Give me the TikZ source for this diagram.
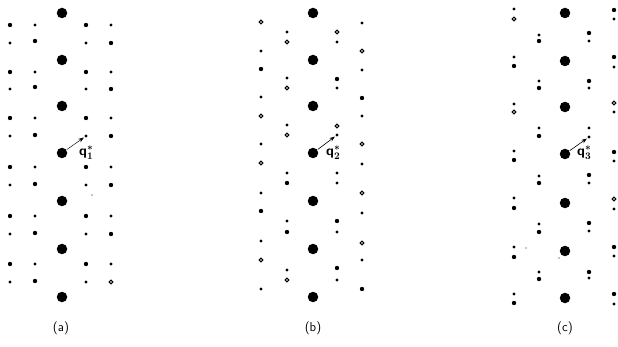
\documentclass[tikz,border=0pt]{standalone}
\usepackage{amsmath}
\usetikzlibrary{arrows.meta}
\begin{document}
\begin{tikzpicture}[x=1pt,y=-1pt,
 big/.style={circle,fill=black,inner sep=0pt,minimum size=10.5pt},
 md/.style={circle,fill=black,inner sep=0pt,minimum size=4.4pt},
 sd/.style={circle,fill=black,inner sep=0pt,minimum size=3.2pt},
 od/.style={circle,draw=black,line width=1pt,inner sep=0pt,minimum size=3.8pt},
 tinyd/.style={circle,fill=black,inner sep=0pt,minimum size=1.3pt},
 vec/.style={-{Stealth[length=5.5pt,width=4pt]},line width=0.6pt,shorten <=0.5pt,shorten >=0.8pt},
 qlab/.style={font=\fontsize{14}{16}\selectfont\sffamily\bfseries,inner sep=0pt,anchor=base west},
 panel/.style={font=\fontsize{13}{15}\selectfont\sffamily,inner sep=0pt}]
\useasboundingbox (0,0) rectangle (618,347);

% ---------------- panel (a)
\foreach \y [count=\i] in {13,60,106,153,201,249,297} \node[big] (aC\i) at (62,\y) {};
\foreach \y/\s [count=\i] in {25/md,43/sd,72/md,89/sd,118/md,136/sd,167/md,185/sd,216/md,234/sd,264/md,282/sd}
  \node[\s] (aL\i) at (10,\y) {};
\foreach \y/\s [count=\i] in {25/sd,41/md,72/sd,87/md,118/sd,135/md,167/sd,184/md,216/sd,233/md,264/sd,281/md}
  \node[\s] (aI\i) at (35,\y) {};
\foreach \y/\s [count=\i] in {25/md,43/sd,72/md,89/sd,118/md,136/sd,167/md,185/sd,216/md,234/sd,264/md,282/sd}
  \node[\s] (aJ\i) at (86,\y) {};
\foreach \y/\s [count=\i] in {25/sd,43/md,72/sd,89/md,118/sd,136/md,167/sd,185/md,216/sd,234/md,264/sd,282/od}
  \node[\s] (aR\i) at (111,\y) {};
\node[tinyd] (aX) at (92,195) {};
\draw[vec,line width=0.45pt] (aC4) -- (aJ6);
\node[qlab] (aq) at (79,156) {q$^{\boldsymbol{*}}_{\mathbf{1}}$};
\node[panel] (alab) at (61,328) {(a)};

% ---------------- panel (b)
\foreach \y [count=\i] in {13,60,106,153,201,249,297} \node[big] (bC\i) at (313,\y) {};
\foreach \y/\s [count=\i] in {22/od,51/sd,69/md,97/sd,116/od,144/sd,163/od,193/sd,211/md,241/sd,260/od,289/sd}
  \node[\s] (bL\i) at (261,\y) {};
\foreach \y/\s [count=\i] in {32/sd,42/od,78/sd,88/od,125/sd,135/od,173/sd,183/md,221/sd,232/md,270/sd,280/od}
  \node[\s] (bI\i) at (287,\y) {};
\foreach \y/\s [count=\i] in {32/od,42/sd,79/md,88/sd,126/od,135/sd,173/sd,183/sd,221/md,232/sd,268/md,280/sd}
  \node[\s] (bJ\i) at (337,\y) {};
\foreach \y/\s [count=\i] in {23/sd,51/od,70/sd,98/md,116/sd,144/od,164/sd,193/od,213/sd,243/od,260/sd,289/md}
  \node[\s] (bR\i) at (362,\y) {};
\draw[vec] (bC4) -- (bJ6);
\node[qlab] (bq) at (326,156) {q$^{\boldsymbol{*}}_{\mathbf{2}}$};
\node[panel] (blab) at (313,328) {(b)};

% ---------------- panel (c)
\foreach \y [count=\i] in {13,61,107,154,203,251,298} \node[big] (cC\i) at (565,\y) {};
\foreach \y/\s [count=\i] in {9/sd,19/od,57/sd,66/md,104/sd,112/od,151/sd,160/md,198/sd,208/md,247/sd,257/md,294/sd,303/md}
  \node[\s] (cL\i) at (514,\y) {};
\foreach \y/\s [count=\i] in {35/sd,41/md,81/sd,88/md,128/sd,136/md,176/sd,183/md,224/sd,232/md,272/sd,279/md}
  \node[\s] (cI\i) at (539,\y) {};
\foreach \y/\s [count=\i] in {33/md,41/sd,81/md,88/sd,128/sd,137/sd,175/md,183/sd,223/md,231/sd,272/md,278/sd}
  \node[\s] (cJ\i) at (589,\y) {};
\foreach \y/\s [count=\i] in {10/md,19/sd,57/md,67/sd,103/od,112/sd,152/md,161/sd,199/od,209/sd,247/md,256/sd,294/md,304/sd}
  \node[\s] (cR\i) at (614,\y) {};
\node[tinyd] (cX) at (526,248) {};
\node[tinyd] (cY) at (559,258) {};
\draw[vec] (cC4) -- (cJ6);
\node[qlab] (cq) at (577,156) {q$^{\boldsymbol{*}}_{\mathbf{3}}$};
\node[panel] (clab) at (565,328) {(c)};
\end{tikzpicture}
\end{document}
